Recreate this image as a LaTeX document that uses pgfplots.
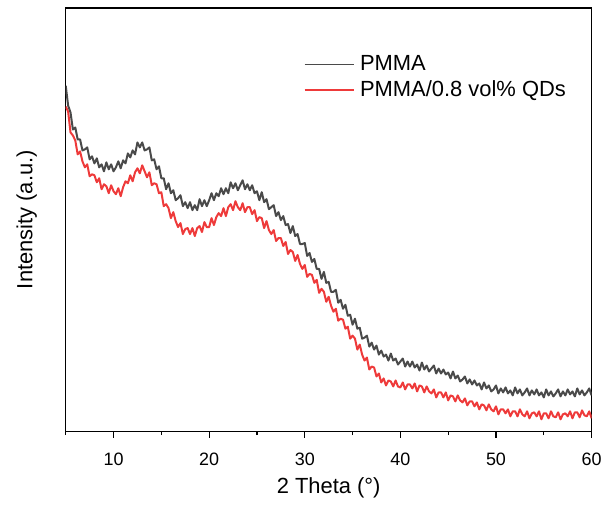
\documentclass[border=0pt]{standalone}
\usepackage{pgfplots}
\usepackage{pgfplotstable}
\pgfplotsset{compat=1.18}
\usetikzlibrary{calc}
\usepackage{fontspec}
\setmainfont{Liberation Sans}
\definecolor{pmma}{RGB}{74,74,74}
\definecolor{pmmaqd}{RGB}{238,58,58}

\pgfplotstableread{
x y
5.00 347
5.25 327
5.50 320
5.75 303
6.00 305
6.25 293
6.50 293
6.75 282
7.00 283
7.25 285
7.50 273
7.75 276
8.00 269
8.25 274
8.50 265
8.75 268
9.00 261
9.25 270
9.50 263
9.75 268
10.00 261
10.25 265
10.50 271
10.75 264
11.00 272
11.25 269
11.50 279
11.75 275
12.00 282
12.25 278
12.50 290
12.75 285
13.00 290
13.25 282
13.50 283
13.75 285
14.00 272
14.25 273
14.50 263
14.75 266
15.00 254
15.25 254
15.50 243
15.75 249
16.00 239
16.25 242
16.50 232
16.75 234
17.00 237
17.25 226
17.50 230
17.75 224
18.00 230
18.25 222
18.50 227
18.75 222
19.00 233
19.25 226
19.50 232
19.75 226
20.00 232
20.25 239
20.50 232
20.75 239
21.00 236
21.25 244
21.50 238
21.75 244
22.00 239
22.25 250
22.50 244
22.75 249
23.00 242
23.25 247
23.50 252
23.75 243
24.00 248
24.25 242
24.50 247
24.75 239
25.00 241
25.25 232
25.50 240
25.75 230
26.00 233
26.25 223
26.50 225
26.75 227
27.00 216
27.25 220
27.50 212
27.75 216
28.00 207
28.25 208
28.50 199
28.75 206
29.00 196
29.25 198
29.50 188
29.75 188
30.00 189
30.25 176
30.50 179
30.75 170
31.00 173
31.25 163
31.50 163
31.75 153
32.00 160
32.25 149
32.50 150
32.75 140
33.00 140
33.25 142
33.50 129
33.75 132
34.00 123
34.25 127
34.50 116
34.75 117
35.00 107
35.25 113
35.50 103
35.75 104
36.00 93
36.25 94
36.50 96
36.75 85
37.00 89
37.25 82
37.50 86
37.75 77
38.00 81
38.25 75
38.50 77
38.75 71
39.00 78
39.25 71
39.50 73
39.75 67
40.00 70
40.25 73
40.50 65
40.75 70
41.00 65
41.25 70
41.50 64
41.75 67
42.00 61
42.25 69
42.50 62
42.75 66
43.00 60
43.25 63
43.50 66
43.75 58
44.00 63
44.25 58
44.50 62
44.75 57
45.00 59
45.25 53
45.50 60
45.75 53
46.00 56
46.25 50
46.50 52
46.75 55
47.00 48
47.25 52
47.50 47
47.75 51
48.00 46
48.25 48
48.50 42
48.75 49
49.00 43
49.25 46
49.50 40
49.75 42
50.00 46
50.25 38
50.50 43
50.75 39
51.00 44
51.25 38
51.50 41
51.75 36
52.00 44
52.25 38
52.50 42
52.75 36
53.00 39
53.25 43
53.50 36
53.75 41
54.00 37
54.25 42
54.50 36
54.75 39
55.00 34
55.25 42
55.50 36
55.75 40
56.00 35
56.25 38
56.50 42
56.75 35
57.00 40
57.25 36
57.50 42
57.75 37
58.00 40
58.25 35
58.50 43
58.75 37
59.00 41
59.25 36
59.50 39
59.75 43
60.00 36
}\pmmadata

\pgfplotstableread{
x y
5.00 326
5.25 321
5.50 300
5.75 297
6.00 292
6.25 278
6.50 281
6.75 271
7.00 265
7.25 268
7.50 256
7.75 258
8.00 257
8.25 250
8.50 254
8.75 243
9.00 248
9.25 246
9.50 239
9.75 247
10.00 241
10.25 238
10.50 244
10.75 236
11.00 245
11.25 251
11.50 249
11.75 257
12.00 251
12.25 260
12.50 264
12.75 259
13.00 267
13.25 261
13.50 255
13.75 260
14.00 247
14.25 249
14.50 248
14.75 239
15.00 240
15.25 226
15.50 228
15.75 224
16.00 214
16.25 220
16.50 211
16.75 205
17.00 209
17.25 198
17.50 203
17.75 204
18.00 198
18.25 204
18.50 196
18.75 204
19.00 206
19.25 200
19.50 210
19.75 205
20.00 205
20.25 214
20.50 207
20.75 215
21.00 219
21.25 216
21.50 224
21.75 216
22.00 225
22.25 228
22.50 222
22.75 231
23.00 225
23.25 222
23.50 229
23.75 220
24.00 225
24.25 225
24.50 218
24.75 222
25.00 211
25.25 215
25.50 214
25.75 204
26.00 211
26.25 202
26.50 198
26.75 202
27.00 191
27.25 194
27.50 194
27.75 186
28.00 190
28.25 178
28.50 182
28.75 180
29.00 171
29.25 177
29.50 168
29.75 163
30.00 167
30.25 155
30.50 158
30.75 157
31.00 149
31.25 152
31.50 139
31.75 143
32.00 140
32.25 130
32.50 135
32.75 126
33.00 120
33.25 123
33.50 111
33.75 113
34.00 112
34.25 103
34.50 105
34.75 93
35.00 96
35.25 93
35.50 82
35.75 87
36.00 77
36.25 71
36.50 74
36.75 62
37.00 65
37.25 64
37.50 55
37.75 58
38.00 49
38.25 53
38.50 46
38.75 51
39.00 50
39.25 45
39.50 51
39.75 45
40.00 44
40.25 49
40.50 42
40.75 47
41.00 47
41.25 43
41.50 48
41.75 40
42.00 46
42.25 45
42.50 39
42.75 45
43.00 40
43.25 38
43.50 42
43.75 34
44.00 39
44.25 39
44.50 34
44.75 39
45.00 31
45.25 36
45.50 35
45.75 30
46.00 36
46.25 31
46.50 29
46.75 33
47.00 26
47.25 30
47.50 30
47.75 25
48.00 29
48.25 22
48.50 27
48.75 26
49.00 21
49.25 27
49.50 22
49.75 20
50.00 25
50.25 17
50.50 22
50.75 22
51.00 18
51.25 22
51.50 15
51.75 20
52.00 20
52.25 15
52.50 22
52.75 17
53.00 15
53.25 20
53.50 13
53.75 18
54.00 19
54.25 15
54.50 20
54.75 12
55.00 18
55.25 18
55.50 13
55.75 20
56.00 15
56.25 14
56.50 19
56.75 12
57.00 17
57.25 18
57.50 15
57.75 20
58.00 13
58.25 19
58.50 19
58.75 14
59.00 21
59.25 16
59.50 15
59.75 20
60.00 13
}\qddata

\begin{document}
\begin{tikzpicture}
\begin{axis}[
  scale only axis,
  width=396pt, height=318.75pt,
  xmin=5, xmax=60, ymin=0, ymax=425,
  xtick={10,20,30,40,50,60},
  minor xtick={5,15,25,35,45,55},
  ytick=\empty,
  xtick pos=bottom,
  tick align=outside,
  major tick length=5pt,
  minor tick length=3pt,
  axis line style={line width=1pt},
  every tick/.style={line width=0.9pt, black},
  /pgf/number format/assume math mode=true,
  ticklabel style={font=\fontsize{13.5}{15}\selectfont},
  xticklabel style={yshift=-8pt},
  xlabel={2 Theta (°)},
  ylabel={Intensity (a.u.)},
  label style={font=\fontsize{16.5}{19}\selectfont},
  xlabel style={at={(axis description cs:0.5,-0.134)}, anchor=center},
  ylabel style={at={(axis description cs:-0.074,0.5)}, anchor=center},
  legend style={at={(axis description cs:0.445,0.90)}, anchor=north west,
    draw=none, fill=none, font=\fontsize{16.5}{19}\selectfont,
    row sep=2pt},
  legend cell align=left,
  legend image code/.code={\draw[#1, line width=1pt] (0pt,0pt) -- (37pt,0pt); \path (39pt,0pt);},
]
\addplot[pmma, line width=1.5pt, line join=round] table[x=x, y=y] {\pmmadata};
\addlegendentry{PMMA}
\addplot[pmmaqd, line width=1.5pt, line join=round] table[x=x, y=y] {\qddata};
\addlegendentry{PMMA/0.8 vol\% QDs}
\end{axis}
\path ($(current axis.south west)+(-49.5pt,-56.25pt)$) rectangle ($(current axis.north east)+(9pt,6pt)$);
\end{tikzpicture}
\end{document}
